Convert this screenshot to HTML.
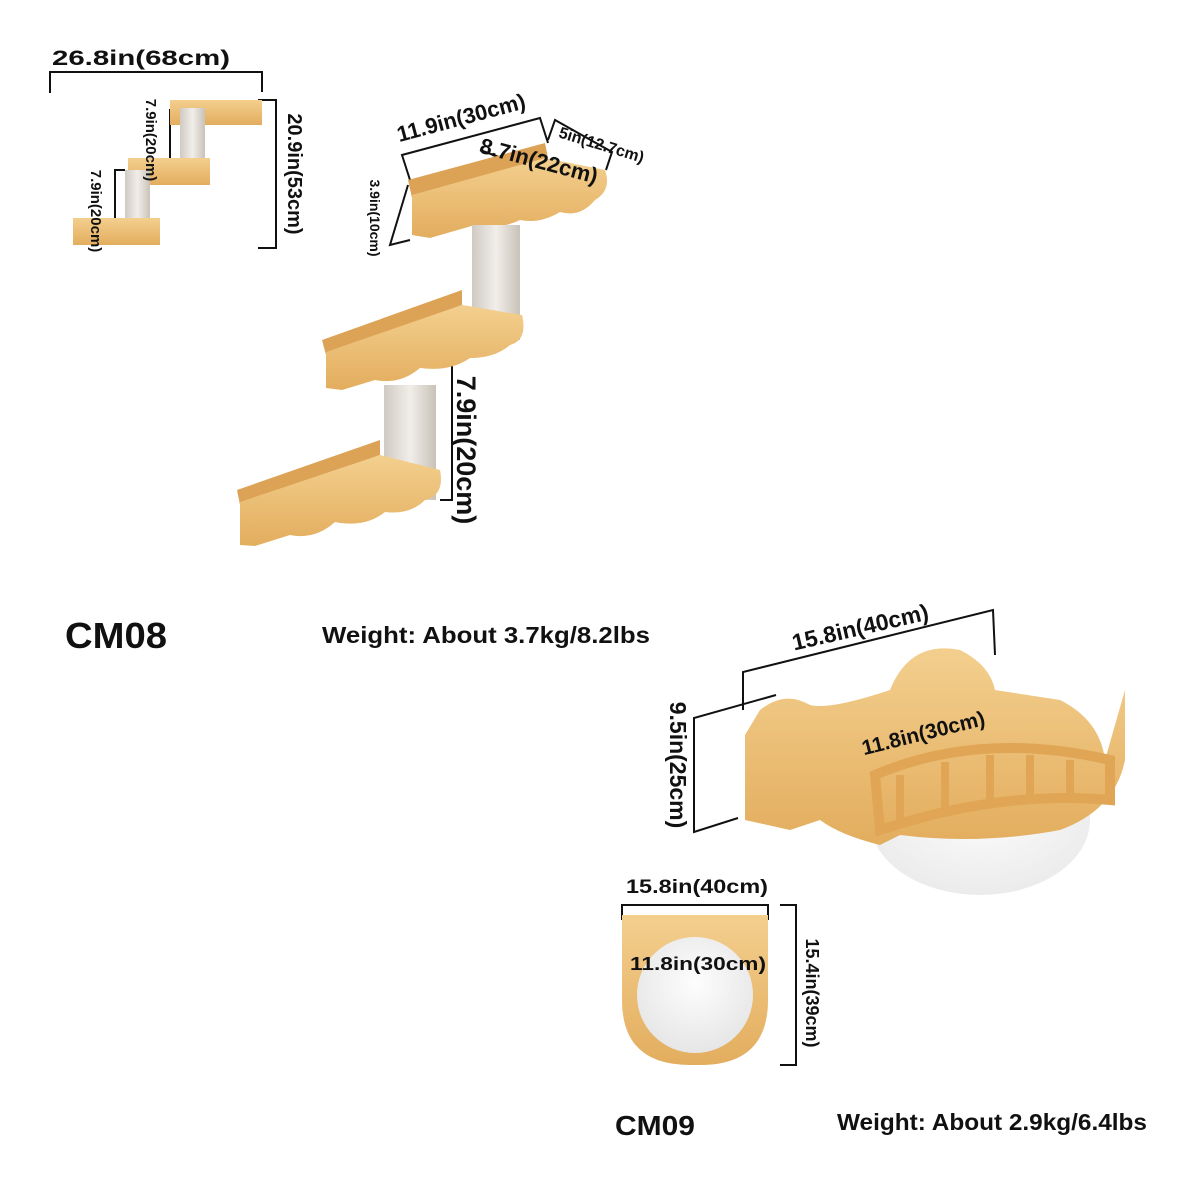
<!DOCTYPE html>
<html><head><meta charset="utf-8"><style>
html,body{margin:0;padding:0;background:#fff;}
svg{display:block;}
text{font-family:"Liberation Sans",sans-serif;font-weight:bold;fill:#111;}
</style></head><body>
<svg width="1200" height="1200" viewBox="0 0 1200 1200" xmlns="http://www.w3.org/2000/svg">
<defs>
<linearGradient id="wd" x1="0" y1="0" x2="0" y2="1"><stop offset="0" stop-color="#f3cf8e"/><stop offset="1" stop-color="#e3ad5e"/></linearGradient>
<linearGradient id="post" x1="0" y1="0" x2="1" y2="0"><stop offset="0" stop-color="#cfcac2"/><stop offset="0.5" stop-color="#f1eee9"/><stop offset="1" stop-color="#c8c2b8"/></linearGradient>
<radialGradient id="bowl" cx="0.5" cy="0.4" r="0.6"><stop offset="0" stop-color="#fdfdfd"/><stop offset="1" stop-color="#e6e6e6"/></radialGradient>
</defs>
<g stroke="#111" stroke-width="2" fill="none">
<polyline points="50,93 50,72 262,72 262,92"/>
<polyline points="258,100 276,100 276,248 258,248"/>
<polyline points="180,110 170,110 170,165 180,165"/>
<polyline points="125,170 115,170 115,225 125,225"/>
<polyline points="410,180 402,155 540,118 548,143"/>
<polyline points="548,140 555,120 612,152 606,170"/>
<polyline points="408,185 390,245 410,240"/>
<line x1="480" y1="150" x2="588" y2="190"/>
<polyline points="440,365 452,365 452,500 440,500"/>
<polyline points="743,710 743,672 993,610 995,655"/>
<polyline points="776,695 694,718 694,832 738,818"/>
<polyline points="852,780 844,770 1052,710 1060,720"/>
<polyline points="622,920 622,905 768,905 768,920"/>
<polyline points="780,905 796,905 796,1065 780,1065"/>
<line x1="628" y1="975" x2="762" y2="975"/>
</g>
<rect x="170" y="100" width="92" height="25" fill="url(#wd)"/>
<rect x="180" y="108" width="25" height="55" fill="url(#post)"/>
<rect x="128" y="158" width="82" height="27" fill="url(#wd)"/>
<rect x="125" y="170" width="25" height="55" fill="url(#post)"/>
<rect x="73" y="218" width="87" height="27" fill="url(#wd)"/>
<!-- CM08 top shelf -->
<polygon points="408,180 545,143 548,158 412,198" fill="#dca256"/>
<path d="M412,195 L545,158 L605,170 Q612,190 595,200 Q580,218 560,212 Q540,224 520,220 Q500,230 475,225 L430,238 L412,235 Z" fill="url(#wd)"/>
<rect x="472" y="225" width="48" height="115" fill="url(#post)"/>
<polygon points="322,340 462,290 462,305 326,355" fill="#dca256"/>
<path d="M326,352 L462,305 L522,315 Q528,340 510,345 Q495,358 470,358 Q450,372 420,368 Q400,385 375,380 L342,390 L326,388 Z" fill="url(#wd)"/>
<rect x="384" y="385" width="52" height="115" fill="url(#post)"/>
<polygon points="237,490 380,440 380,455 240,505" fill="#dca256"/>
<path d="M240,502 L380,455 L440,470 Q445,495 425,500 Q410,515 385,512 Q365,528 335,522 Q315,540 290,535 L255,546 L240,545 Z" fill="url(#wd)"/>
<!-- CM09 big -->
<ellipse cx="980" cy="820" rx="110" ry="75" fill="url(#bowl)" opacity="0.8"/>
<path d="M745,735 L760,710 Q785,690 810,705 Q830,710 890,690 Q910,640 960,650 Q990,665 995,690 L1060,700 Q1100,720 1105,760 L1125,690 L1125,760 Q1115,810 1060,830 Q980,845 900,835 L880,845 Q840,835 820,820 L790,830 L745,820 Z" fill="url(#wd)"/>
<path d="M875,775 Q980,730 1110,760 L1110,800 Q1000,790 880,830 Z" fill="none" stroke="#e0a655" stroke-width="10"/>
<g stroke="#e0a655" stroke-width="8"><line x1="900" y1="775" x2="900" y2="820"/><line x1="945" y1="762" x2="945" y2="810"/><line x1="990" y1="755" x2="990" y2="805"/><line x1="1030" y1="755" x2="1030" y2="800"/><line x1="1070" y1="760" x2="1070" y2="800"/></g>
<!-- CM09 small -->
<path d="M622,915 L768,915 L768,1000 Q768,1065 700,1065 L690,1065 Q622,1065 622,1000 Z" fill="url(#wd)"/>
<circle cx="695" cy="995" r="58" fill="url(#bowl)"/>
<!-- text -->
<text x="52" y="65" font-size="21" textLength="178" lengthAdjust="spacingAndGlyphs">26.8in(68cm)</text>
<text transform="translate(288,174) rotate(90)" font-size="20" text-anchor="middle">20.9in(53cm)</text>
<text transform="translate(146,140) rotate(90)" font-size="15" text-anchor="middle">7.9in(20cm)</text>
<text transform="translate(91,211) rotate(90)" font-size="15" text-anchor="middle">7.9in(20cm)</text>
<text transform="translate(463,125) rotate(-15)" font-size="22" text-anchor="middle">11.9in(30cm)</text>
<text transform="translate(600,150) rotate(17)" font-size="16" text-anchor="middle">5in(12.7cm)</text>
<text transform="translate(537,168) rotate(15)" font-size="22" text-anchor="middle">8.7in(22cm)</text>
<text transform="translate(370,218) rotate(90)" font-size="14" text-anchor="middle">3.9in(10cm)</text>
<text transform="translate(457,450) rotate(90)" font-size="27" text-anchor="middle">7.9in(20cm)</text>
<text x="65" y="648" font-size="36" textLength="102" lengthAdjust="spacingAndGlyphs">CM08</text>
<text x="322" y="643" font-size="23" textLength="328" lengthAdjust="spacingAndGlyphs">Weight: About 3.7kg/8.2lbs</text>
<text transform="translate(862,635) rotate(-13)" font-size="23" text-anchor="middle">15.8in(40cm)</text>
<text transform="translate(670,765) rotate(90)" font-size="23" text-anchor="middle">9.5in(25cm)</text>
<text transform="translate(925,740) rotate(-14)" font-size="21" text-anchor="middle">11.8in(30cm)</text>
<text x="626" y="893" font-size="19" textLength="142" lengthAdjust="spacingAndGlyphs">15.8in(40cm)</text>
<text x="630" y="970" font-size="18" textLength="136" lengthAdjust="spacingAndGlyphs">11.8in(30cm)</text>
<text transform="translate(806,993) rotate(90)" font-size="18" text-anchor="middle">15.4in(39cm)</text>
<text x="615" y="1135" font-size="28" textLength="80" lengthAdjust="spacingAndGlyphs">CM09</text>
<text x="837" y="1130" font-size="23" textLength="310" lengthAdjust="spacingAndGlyphs">Weight: About 2.9kg/6.4lbs</text>
</svg>
</body></html>
